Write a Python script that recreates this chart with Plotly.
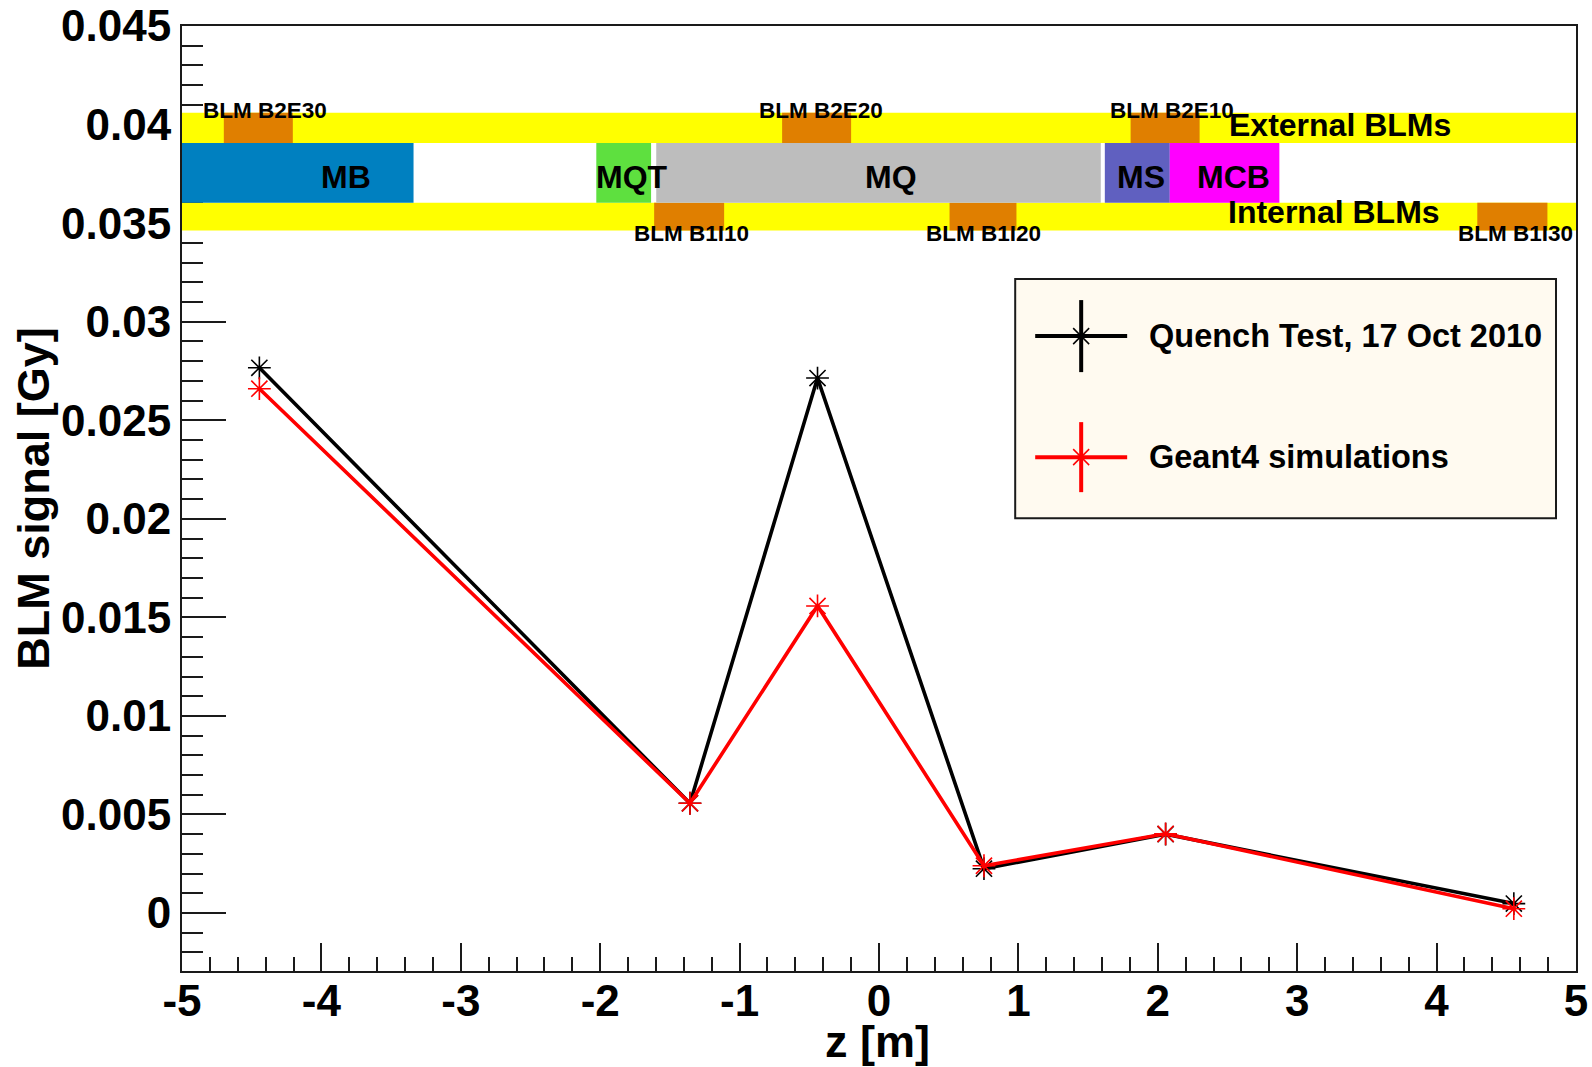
import plotly.graph_objects as go

# ---- data ----
z_points = [-4.445, -1.356, -0.441, 0.753, 2.056, 4.554]
quench_test = [0.02766, 0.00557, 0.02714, 0.00225, 0.00400, 0.00048]
geant4 = [0.02660, 0.00557, 0.01558, 0.00240, 0.00402, 0.00022]
series_names = ["Quench Test, 17 Oct 2010", "Geant4 simulations"]
series_colors = ["#000000", "#ff0000"]

x_tick_values = [-5, -4, -3, -2, -1, 0, 1, 2, 3, 4, 5]
x_tick_labels = ["-5", "-4", "-3", "-2", "-1", "0", "1", "2", "3", "4", "5"]
y_tick_values = [0, 0.005, 0.01, 0.015, 0.02, 0.025, 0.03, 0.035, 0.04, 0.045]
y_tick_labels = ["0", "0.005", "0.01", "0.015", "0.02", "0.025", "0.03", "0.035", "0.04", "0.045"]
x_range = [-5, 5]
y_range = [-0.00294, 0.045]
x_title = "z [m]"
y_title = "BLM signal [Gy]"

# beam-line sketch: z extents
band_names = ["External BLMs", "Internal BLMs"]
band_z = [-5, 5]
band_y = [[0.03907, 0.0406], [0.03463, 0.03603]]
band_label_z = [3.31, 3.265]
band_label_y = [0.03996, 0.03556]

magnet_names = ["MB", "MQT", "MQ", "MS", "MCB"]
magnet_z0 = [-5.0, -2.028, -1.598, 1.620, 2.086]
magnet_z1 = [-3.339, -1.635, 1.591, 2.086, 2.872]
magnet_colors = ["#0080c0", "#5ee03f", "#bdbdbd", "#6060c0", "#ff00ff"]
magnet_label_z = [-3.82, -1.772, 0.088, 1.88, 2.545]
magnet_y = [0.03603, 0.03907]
magnet_label_y = 0.03735

blm_ext_names = ["BLM B2E30", "BLM B2E20", "BLM B2E10"]
blm_ext_z0 = [-4.700, -0.695, 1.805]
blm_ext_z1 = [-4.205, -0.200, 2.300]
blm_ext_label_z = [-4.405, -0.417, 2.10]
blm_ext_label_y = 0.0407

blm_int_names = ["BLM B1I10", "BLM B1I20", "BLM B1I30"]
blm_int_z0 = [-1.613, 0.506, 4.292]
blm_int_z1 = [-1.111, 0.986, 4.795]
blm_int_label_z = [-1.348, 0.75, 4.565]
blm_int_label_y = 0.03445

FONT = "Liberation Sans"
W, H = 1592, 1067
L, R, T, B = 181.5, 1576.0, 26.0, 970.7


def px(x):
    return (x - L) / (R - L)


def py(y):
    return (B - y) / (B - T)


def bar(z0, z1, y0, y1, color, name):
    return go.Bar(
        x=[(a + b) / 2 for a, b in zip(z0, z1)],
        width=[b - a for a, b in zip(z0, z1)],
        base=[y0] * len(z0),
        y=[y1 - y0] * len(z0),
        marker=dict(color=color, line=dict(width=0)),
        name=name, showlegend=False, hoverinfo="skip",
    )


fig = go.Figure()
for (y0, y1), nm in zip(band_y, band_names):
    fig.add_trace(bar(band_z[:1], band_z[1:], y0, y1, "#ffff00", nm))
fig.add_trace(bar(blm_ext_z0, blm_ext_z1, band_y[0][0], band_y[0][1], "#e07f00", "External"))
fig.add_trace(bar(blm_int_z0, blm_int_z1, band_y[1][0], band_y[1][1], "#e07f00", "Internal"))
fig.add_trace(bar(magnet_z0, magnet_z1, magnet_y[0], magnet_y[1], magnet_colors, "Magnets"))

for vals, nm, col in zip([quench_test, geant4], series_names, series_colors):
    fig.add_trace(go.Scatter(
        x=z_points, y=vals, mode="lines+markers", name=nm,
        line=dict(color=col, width=3.6),
        marker=dict(symbol="asterisk-open", size=19, color=col, line=dict(color=col, width=1.6)),
        showlegend=False, cliponaxis=False,
    ))

ann = []


def label(z, y, text, size):
    ann.append(dict(x=z, y=y, xref="x", yref="y", text=text, showarrow=False,
                    xanchor="center", yanchor="middle",
                    font=dict(family=FONT, size=size, color="#000000")))


for n, z in zip(magnet_names, magnet_label_z):
    label(z, magnet_label_y, "<b>%s</b>" % n, 32)
for n, z, y in zip(band_names, band_label_z, band_label_y):
    label(z, y, "<b>%s</b>" % n, 32)
for n, z in zip(blm_ext_names, blm_ext_label_z):
    label(z, blm_ext_label_y, "<b>%s</b>" % n, 22.5)
for n, z in zip(blm_int_names, blm_int_label_z):
    label(z, blm_int_label_y, "<b>%s</b>" % n, 22.5)

# axis titles placed to match the reference
ann.append(dict(x=px(877), y=py(1041), xref="paper", yref="paper", text="<b>%s</b>" % x_title,
                showarrow=False, xanchor="center", yanchor="middle",
                font=dict(family=FONT, size=45, color="#000000")))
ann.append(dict(x=px(33), y=py(498), xref="paper", yref="paper", text="<b>%s</b>" % y_title,
                showarrow=False, textangle=-90, xanchor="center", yanchor="middle",
                font=dict(family=FONT, size=45, color="#000000")))

# legend box, drawn to match the reference's large error-bar keys
shapes = [dict(type="rect", xref="paper", yref="paper", layer="above",
               x0=px(1015), x1=px(1556), y0=py(518), y1=py(279),
               fillcolor="#fffaf0", line=dict(color="#1a1a1a", width=2))]
keys = [(1081, 336, 36), (1081, 457, 35)]


def seg(x0, y0, x1, y1, col, w):
    shapes.append(dict(type="line", xref="paper", yref="paper", layer="above",
                       x0=px(x0), x1=px(x1), y0=py(y0), y1=py(y1),
                       line=dict(color=col, width=w)))


for (cx, cy, half), col, nm in zip(keys, series_colors, series_names):
    seg(cx - 46, cy, cx + 46, cy, col, 4)
    seg(cx, cy - half, cx, cy + half, col, 4)
    seg(cx - 8, cy - 8, cx + 8, cy + 8, col, 1.5)
    seg(cx - 8, cy + 8, cx + 8, cy - 8, col, 1.5)
    ann.append(dict(x=px(1147), y=py(cy), xref="paper", yref="paper", text="<b>%s</b>" % nm,
                    showarrow=False, xanchor="left", yanchor="middle",
                    font=dict(family=FONT, size=32.5, color="#000000")))

axis_common = dict(
    showgrid=False, zeroline=False, showline=True, mirror=True, automargin=False,
    linecolor="#1a1a1a", linewidth=2, ticks="inside", tickcolor="#1a1a1a", tickwidth=2,
    tickfont=dict(family=FONT, size=44, color="#000000", weight="bold"),
    layer="below traces", tickmode="array",
)

fig.update_layout(
    template="none",
    width=W, height=H, autosize=False,
    margin=dict(l=L, r=W - R, t=T, b=H - B, pad=0),
    paper_bgcolor="#ffffff", plot_bgcolor="#ffffff",
    barmode="overlay", showlegend=False,
    annotations=ann, shapes=shapes,
    xaxis=dict(axis_common, range=x_range, tickvals=x_tick_values, ticktext=x_tick_labels,
               ticklen=28, ticklabelstandoff=-10,
               minor=dict(ticks="inside", ticklen=14, tickwidth=2, tickcolor="#1a1a1a",
                          tick0=-5, dtick=0.2, showgrid=False)),
    yaxis=dict(axis_common, range=y_range, tickvals=y_tick_values, ticktext=y_tick_labels,
               ticklen=44,
               minor=dict(ticks="inside", ticklen=21, tickwidth=2, tickcolor="#1a1a1a",
                          tick0=0, dtick=0.001, showgrid=False)),
)

fig.write_html("out.html", config=dict(displayModeBar=False),
               post_script="document.body.style.margin='0';document.body.style.overflow='hidden';")
